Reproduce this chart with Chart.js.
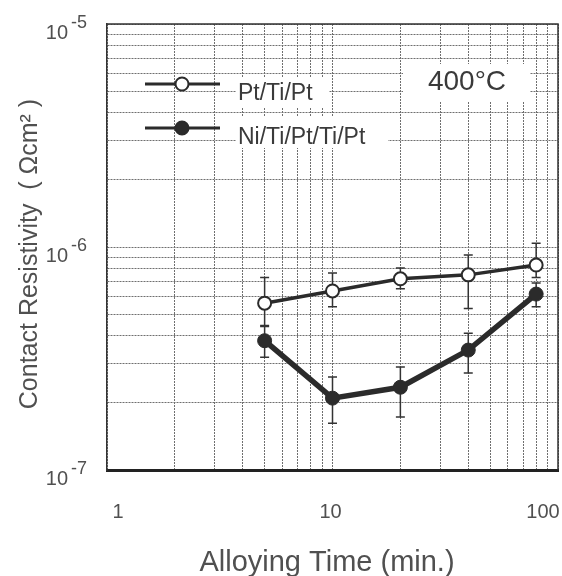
<!DOCTYPE html>
<html>
<head>
<meta charset="utf-8">
<title>Contact Resistivity vs Alloying Time</title>
<script src="https://cdn.jsdelivr.net/npm/chart.js@4.4.0/dist/chart.umd.min.js"></script>
<style>
  body { margin: 0; background: #fff; }
  #wrap { width: 562px; height: 576px; }
</style>
</head>
<body>
<div id="wrap"><canvas id="resistivity-chart" width="562" height="576"></canvas></div>
<script>
// alloying time, minutes
const alloyTimes = [5, 10, 20, 40, 80];

// contact resistivity (ohm cm^2) with error bar limits
const ptTiPt     = [5.6e-7, 6.35e-7, 7.2e-7, 7.5e-7, 8.3e-7];
const ptTiPtLow  = [4.45e-7, 5.4e-7, 6.5e-7, 5.3e-7, 7.3e-7];
const ptTiPtHigh = [7.3e-7, 7.65e-7, 8.05e-7, 9.2e-7, 1.04e-6];

const niStack     = [3.8e-7, 2.1e-7, 2.35e-7, 3.45e-7, 6.15e-7];
const niStackLow  = [3.2e-7, 1.62e-7, 1.73e-7, 2.72e-7, 5.4e-7];
const niStackHigh = [4.4e-7, 2.61e-7, 2.9e-7, 4.1e-7, 6.9e-7];

// grid lines and labelled ticks
const xGridValues = [1, 2, 3, 4, 5, 6, 7, 8, 9, 10, 20, 30, 40, 50, 60, 70, 80, 90, 100];
const yGridValues = [1e-7, 2e-7, 3e-7, 4e-7, 5e-7, 6e-7, 7e-7, 8e-7, 9e-7,
                     1e-6, 2e-6, 3e-6, 4e-6, 5e-6, 6e-6, 7e-6, 8e-6, 9e-6, 1e-5];
const xTickLabels = ['1', '10', '100'];
const xTickValues = [1, 10, 100];
const yTickValues = [1e-7, 1e-6, 1e-5];
const yTickExponents = ['-7', '-6', '-5'];

const seriesNames = ['Pt/Ti/Pt', 'Ni/Ti/Pt/Ti/Pt'];
const tempLabel = '400°C';
const xTitle = 'Alloying Time (min.)';
const yTitle = 'Contact Resistivity  ( Ωcm² )';

const FONT = '"Liberation Sans", Arial, Helvetica, sans-serif';
const INK = '#2b2b2b';
const TEXT = '#505050';

// error bars under the points
const errorBars = {
    id: 'errorBars',
    beforeDatasetsDraw(chart) {
        const { ctx, scales: { x, y } } = chart;
        ctx.save();
        ctx.strokeStyle = '#333';
        ctx.lineWidth = 1.5;
        [[ptTiPtLow, ptTiPtHigh], [niStackLow, niStackHigh]].forEach(([lo, hi]) => {
            alloyTimes.forEach((t, i) => {
                const px = x.getPixelForValue(t);
                const top = y.getPixelForValue(hi[i]);
                const bot = y.getPixelForValue(lo[i]);
                ctx.beginPath();
                ctx.moveTo(px, top); ctx.lineTo(px, bot);
                ctx.moveTo(px - 4.5, top); ctx.lineTo(px + 4.5, top);
                ctx.moveTo(px - 4.5, bot); ctx.lineTo(px + 4.5, bot);
                ctx.stroke();
            });
        });
        ctx.restore();
    }
};

// frame, tick labels, titles, legend and temperature tag
const decorations = {
    id: 'decorations',
    beforeDatasetsDraw(chart) {
        const { ctx, chartArea: a } = chart;
        ctx.save();
        // white backing boxes over the grid
        ctx.fillStyle = '#fff';
        ctx.fillRect(a.left + 129, a.top + 53, 93, 31);
        ctx.fillRect(a.left + 129, a.top + 93, 152, 31);
        ctx.fillRect(a.left + 296, a.top + 40, 127, 37);
        ctx.restore();
    },
    afterDraw(chart) {
        const { ctx, chartArea: a, scales: { x, y } } = chart;
        ctx.save();

        // top and right frame
        ctx.strokeStyle = '#333';
        ctx.lineWidth = 1.5;
        ctx.beginPath();
        ctx.moveTo(a.left, a.top);
        ctx.lineTo(a.right, a.top);
        ctx.lineTo(a.right, a.bottom);
        ctx.stroke();

        // y tick labels: 10 with raised exponent
        ctx.fillStyle = TEXT;
        ctx.textBaseline = 'alphabetic';
        yTickValues.forEach((v, i) => {
            const py = y.getPixelForValue(v);
            ctx.font = '20px ' + FONT;
            ctx.textAlign = 'right';
            ctx.fillText('10', 68, py + 15);
            ctx.font = '18px ' + FONT;
            ctx.textAlign = 'left';
            ctx.fillText(yTickExponents[i], 71, py + 4);
        });

        // x tick labels
        ctx.font = '20px ' + FONT;
        ctx.textAlign = 'center';
        const xShift = [11, -2, -15];
        xTickValues.forEach((v, i) => {
            ctx.fillText(xTickLabels[i], x.getPixelForValue(v) + xShift[i], 518);
        });

        // axis titles
        ctx.font = '29px ' + FONT;
        ctx.fillText(xTitle, 327, 571);
        ctx.save();
        ctx.translate(37, 254);
        ctx.rotate(-Math.PI / 2);
        ctx.font = '25px ' + FONT;
        ctx.fillText(yTitle, 0, 0);
        ctx.restore();

        // legend
        const rows = [
            { y: a.top + 60, fill: '#fff' },
            { y: a.top + 104, fill: INK }
        ];
        rows.forEach((r, i) => {
            ctx.strokeStyle = INK;
            ctx.lineWidth = 3;
            ctx.beginPath();
            ctx.moveTo(a.left + 38, r.y);
            ctx.lineTo(a.left + 113, r.y);
            ctx.stroke();
            ctx.beginPath();
            ctx.arc(a.left + 75, r.y, 6.5, 0, Math.PI * 2);
            ctx.fillStyle = r.fill;
            ctx.fill();
            ctx.lineWidth = 2;
            ctx.stroke();
            ctx.fillStyle = '#3a3a3a';
            ctx.font = '23px ' + FONT;
            ctx.textAlign = 'left';
            ctx.fillText(seriesNames[i], a.left + 131, r.y + 16);
        });

        // temperature tag
        ctx.font = '28px ' + FONT;
        ctx.textAlign = 'center';
        ctx.fillStyle = '#3a3a3a';
        ctx.fillText(tempLabel, a.left + 360, a.top + 66);

        ctx.restore();
    }
};

const gridStyle = { color: '#6f6f6f', lineWidth: 1, drawTicks: false };

new Chart(document.getElementById('resistivity-chart'), {
    type: 'line',
    data: {
        datasets: [
            {
                label: seriesNames[0],
                data: alloyTimes.map((t, i) => ({ x: t, y: ptTiPt[i] })),
                borderColor: INK,
                borderWidth: 3.5,
                pointRadius: 6.5,
                pointBackgroundColor: '#fff',
                pointBorderColor: INK,
                pointBorderWidth: 2,
                tension: 0
            },
            {
                label: seriesNames[1],
                data: alloyTimes.map((t, i) => ({ x: t, y: niStack[i] })),
                borderColor: INK,
                borderWidth: 5.5,
                pointRadius: 7,
                pointBackgroundColor: INK,
                pointBorderColor: INK,
                pointBorderWidth: 1,
                tension: 0
            }
        ]
    },
    options: {
        responsive: false,
        animation: false,
        layout: { autoPadding: false, padding: { left: 107, top: 24, right: 4, bottom: 106 } },
        plugins: { legend: { display: false }, tooltip: { enabled: false } },
        scales: {
            x: {
                type: 'logarithmic',
                min: 1,
                max: 100,
                afterBuildTicks: (scale) => { scale.ticks = xGridValues.map(v => ({ value: v })); },
                ticks: { display: false },
                grid: gridStyle,
                border: { display: true, color: '#222', width: 3, dash: [2, 1] }
            },
            y: {
                type: 'logarithmic',
                min: 1e-7,
                max: 1e-5,
                afterBuildTicks: (scale) => { scale.ticks = yGridValues.map(v => ({ value: v })); },
                ticks: { display: false },
                grid: gridStyle,
                border: { display: true, color: '#333', width: 1.5, dash: [2, 1] }
            }
        }
    },
    plugins: [errorBars, decorations]
});
</script>
</body>
</html>
